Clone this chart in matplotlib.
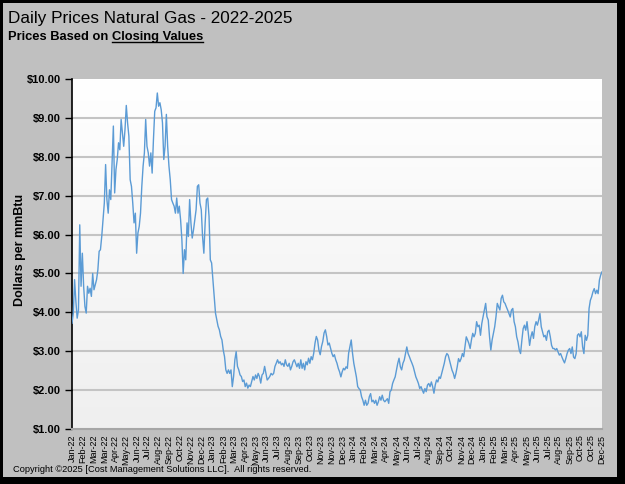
import numpy as np
import matplotlib.pyplot as plt
from matplotlib.colors import LinearSegmentedColormap
from matplotlib.patches import Rectangle
from matplotlib.lines import Line2D

# daily closing prices (sampled), Jan-22 .. Dec-25
prices = [
    3.72, 3.98, 4.84, 4.28, 3.85, 4.06, 6.25, 4.67, 5.52, 4.67, 4.15, 3.98, 4.67, 4.49, 4.62, 4.41,
    5.00, 4.58, 4.71, 4.84, 5.09, 5.57, 5.61, 5.95, 6.38, 6.81, 7.80, 6.90, 6.55, 7.15, 6.90, 7.84,
    8.79, 7.07, 7.67, 7.93, 8.36, 8.18, 8.96, 8.61, 8.27, 8.70, 9.32, 8.87, 8.53, 7.41, 7.24, 6.81,
    6.30, 6.55, 5.52, 6.04, 6.21, 6.55, 7.24, 7.76, 8.10, 8.96, 8.27, 8.10, 7.76, 8.10, 7.58, 8.44,
    9.17, 9.26, 9.64, 9.30, 9.39, 9.21, 8.87, 7.93, 8.27, 9.09, 8.27, 7.76, 7.41, 6.90, 6.81, 6.73,
    6.55, 6.94, 6.55, 6.73, 6.38, 5.87, 5.00,
    5.61, 5.35, 6.30, 5.95, 6.90, 6.30, 5.91, 6.12, 6.38, 6.64, 7.24, 7.28, 6.81, 6.64, 5.95, 5.52,
    6.30, 6.90, 6.94, 6.47, 5.35, 5.27, 4.84, 4.41, 3.98, 3.81, 3.64, 3.55, 3.38, 3.29, 3.03, 2.86,
    2.52, 2.43, 2.52, 2.43, 2.52, 2.09, 2.35, 2.78, 2.99, 2.61, 2.52, 2.39, 2.35, 2.22, 2.26, 2.09,
    2.18, 2.05, 2.13, 2.09, 2.22, 2.35, 2.26, 2.39, 2.30, 2.43, 2.35, 2.18, 2.39, 2.43, 2.61, 2.43,
    2.26, 2.30, 2.35, 2.43, 2.39, 2.43, 2.61, 2.69, 2.78, 2.69, 2.73, 2.65, 2.69, 2.61, 2.78, 2.65,
    2.61, 2.69, 2.52, 2.61, 2.73, 2.78,
    2.69, 2.60, 2.69, 2.56, 2.78, 2.56, 2.69, 2.52, 2.73, 2.65, 2.82, 2.69, 2.86, 2.78, 2.95, 3.21,
    3.38, 3.29, 3.03, 2.91, 3.12, 3.25, 3.47, 3.55, 3.38, 3.16, 3.21, 3.08, 2.95, 2.86, 2.91, 2.78,
    2.69, 2.56, 2.47, 2.34, 2.47, 2.56, 2.52, 2.60, 2.56, 2.95, 3.12, 3.29, 2.95, 2.69, 2.52, 2.34,
    2.09, 2.04, 2.00, 1.83, 1.74, 1.61, 1.74, 1.61, 1.66, 1.83, 1.91, 1.70, 1.74, 1.66, 1.74, 1.61,
    1.70, 1.83, 1.74, 1.87, 1.74, 1.70, 1.74, 1.78, 1.66, 1.96, 2.00, 2.17, 2.26, 2.34, 2.52, 2.69,
    2.82, 2.60, 2.52,
    2.69, 2.77, 2.94, 3.11, 2.94, 2.86, 2.77, 2.69, 2.60, 2.47, 2.34, 2.26, 2.17, 2.04, 2.09, 2.00,
    1.92, 2.04, 1.96, 2.13, 2.17, 2.09, 2.21, 2.09, 1.92, 2.13, 2.26, 2.21, 2.34, 2.30, 2.43, 2.56,
    2.69, 2.86, 2.94, 2.90, 2.77, 2.64, 2.51, 2.43, 2.30, 2.43, 2.60, 2.81, 2.73, 2.81, 2.94, 2.86,
    3.11, 3.37, 3.29, 3.20, 3.07, 3.29, 3.46, 3.37, 3.46, 3.76, 3.63, 3.67, 3.41, 3.71, 3.89, 4.06,
    4.23, 3.89, 3.80, 3.37, 3.03, 3.29, 3.46, 3.63, 3.89, 4.23, 4.14, 4.06, 4.36, 4.44, 4.27, 4.23,
    4.14, 4.06,
    3.97, 3.88, 4.06, 4.10, 3.76, 3.63, 3.37, 3.24, 3.03, 2.94, 3.28, 3.58, 3.67, 3.54, 3.76, 3.45,
    3.15, 3.37, 3.50, 3.33, 3.63, 3.76, 3.67, 3.80, 3.97, 3.63, 3.50, 3.37, 3.41, 3.28, 3.50, 3.54,
    3.37, 3.15, 3.07, 3.07, 3.03, 3.07, 2.98, 2.90, 2.94, 2.85, 2.77, 2.70, 2.81, 2.94, 3.03, 3.07,
    2.94, 3.11, 2.85, 2.81, 2.94, 3.41, 3.45, 3.37, 3.50, 3.11, 2.94, 3.41, 3.28, 3.41, 4.10, 4.31,
    4.40, 4.53, 4.61, 4.48, 4.57, 4.48, 4.83, 4.96, 5.04,
]

month_labels = ['Jan-22', 'Feb-22', 'Mar-22', 'Mar-22', 'Apr-22', 'May-22', 'Jun-22', 'Jul-22',
                'Aug-22', 'Sep-22', 'Oct-22', 'Nov-22', 'Dec-22', 'Jan-23', 'Feb-23', 'Mar-23',
                'Apr-23', 'May-23', 'Jun-23', 'Jul-23', 'Aug-23', 'Sep-23', 'Oct-23', 'Nov-23',
                'Nov-23', 'Dec-23', 'Jan-24', 'Feb-24', 'Mar-24', 'Apr-24', 'May-24', 'Jun-24',
                'Jul-24', 'Aug-24', 'Sep-24', 'Oct-24', 'Nov-24', 'Dec-24', 'Jan-25', 'Feb-25',
                'Mar-25', 'Apr-25', 'May-25', 'Jun-25', 'Jul-25', 'Aug-25', 'Sep-25', 'Oct-25',
                'Oct-25', 'Dec-25']

y_ticks = [1, 2, 3, 4, 5, 6, 7, 8, 9, 10]

plt.rcParams['font.family'] = ['Liberation Sans', 'DejaVu Sans']

W, H = 625, 484
fig = plt.figure(figsize=(W / 100, H / 100), dpi=100, facecolor='black')
# gray panel inside the black frame (thicker shadow on right / bottom)
fig.patches.append(Rectangle((3 / W, 7 / H), (617 - 3) / W, (481 - 7) / H,
                             transform=fig.transFigure, facecolor='#c0c0c0',
                             edgecolor='none', zorder=-10))

ax = fig.add_axes([72 / W, 1 - 429 / H, (602 - 72) / W, (429 - 79) / H])
x = np.arange(len(prices))
xmax = len(prices) - 1

# white-to-light-gray plot background
cmap = LinearSegmentedColormap.from_list('bg', ['#ffffff', '#efefef'])
ax.imshow(np.linspace(0, 1, 256).reshape(-1, 1), cmap=cmap, aspect='auto',
          extent=[0, xmax, 1, 10], origin='upper', zorder=0)
ax.set_xlim(0, xmax)
ax.set_ylim(1, 10)

for yv in y_ticks[1:-1]:
    ax.axhline(yv, color='#c4c4c4', lw=1.5, zorder=1)

ax.plot(x, prices, color='#5b9bd5', lw=1.0, zorder=3)

for s in ['top', 'right']:
    ax.spines[s].set_visible(False)
ax.spines['left'].set_color('black')
ax.spines['left'].set_linewidth(1.2)
ax.spines['bottom'].set_color('#a6a6a6')
ax.spines['bottom'].set_linewidth(1.5)

ax.set_yticks(y_ticks)
ax.set_yticklabels(['$%.2f' % v for v in y_ticks], fontweight='bold', fontsize=8)
ax.tick_params(axis='y', direction='out', length=5, width=1, color='black', pad=3)

label_pos = np.linspace(0, xmax, len(month_labels))
ax.set_xticks(label_pos)
ax.set_xticklabels(month_labels, rotation=90, fontsize=6.5)
ax.tick_params(axis='x', length=0, pad=4)
ax.set_xticks(label_pos[::5], minor=True)
ax.tick_params(axis='x', which='minor', length=4, width=1, color='#a6a6a6', direction='out')

fig.text(20 / W, 1 - 250 / H, 'Dollars per mmBtu', rotation=90, fontweight='bold',
         fontsize=9, ha='center', va='center')

fig.text(8 / W, 1 - 18 / H, 'Daily Prices Natural Gas - 2022-2025', fontsize=12.3,
         ha='left', va='center')
t1 = fig.text(8 / W, 1 - 37 / H, 'Prices Based on ', fontsize=9.3, fontweight='bold',
              ha='left', va='center')
fig.canvas.draw()
bb = t1.get_window_extent()
t2 = fig.text(bb.x1 / W, 1 - 37 / H, 'Closing Values', fontsize=9.3, fontweight='bold',
              ha='left', va='center')
fig.canvas.draw()
bb2 = t2.get_window_extent()
fig.lines.append(Line2D([bb2.x0 / W, bb2.x1 / W], [(bb2.y0 + 1) / H, (bb2.y0 + 1) / H],
                        transform=fig.transFigure, color='black', lw=1))

fig.text(13 / W, 1 - 470 / H,
         'Copyright \u00a92025 [Cost Management Solutions LLC].  All rights reserved.',
         fontsize=6.7, ha='left', va='center')

fig.savefig('out.png', dpi=100, facecolor=fig.get_facecolor())
